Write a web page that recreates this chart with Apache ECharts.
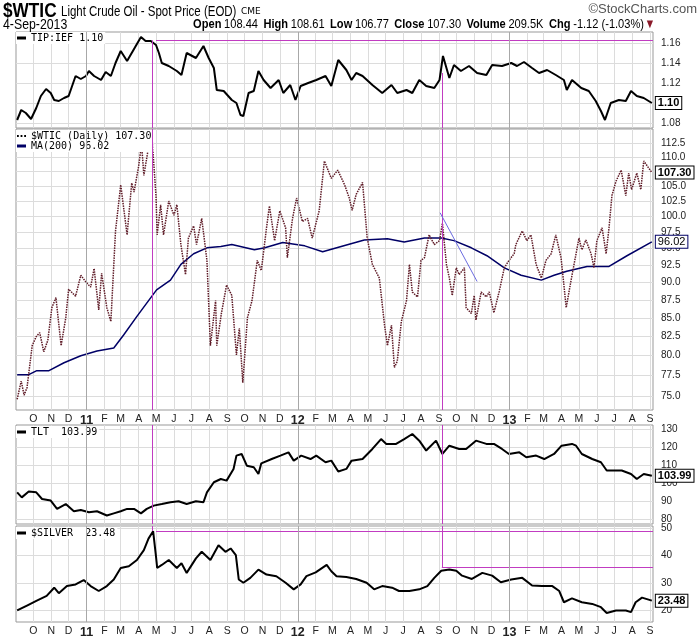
<!DOCTYPE html>
<html>
<head>
<meta charset="utf-8">
<title>$WTIC Light Crude Oil - Spot Price</title>
<script src="https://cdn.jsdelivr.net/npm/echarts@6/dist/echarts.min.js"></script>
<style>
  html, body { margin: 0; padding: 0; background: #fff; }
  #chart { width: 700px; height: 639px; }
</style>
</head>
<body>
<div id="chart"></div>
<script>
// month starts on the date axis
var monthTicks = [
  '2010-10-01', '2010-11-01', '2010-12-01', '2011-01-01', '2011-02-01', '2011-03-01',
  '2011-04-01', '2011-05-01', '2011-06-01', '2011-07-01', '2011-08-01', '2011-09-01',
  '2011-10-01', '2011-11-01', '2011-12-01', '2012-01-01', '2012-02-01', '2012-03-01',
  '2012-04-01', '2012-05-01', '2012-06-01', '2012-07-01', '2012-08-01', '2012-09-01',
  '2012-10-01', '2012-11-01', '2012-12-01', '2013-01-01', '2013-02-01', '2013-03-01',
  '2013-04-01', '2013-05-01', '2013-06-01', '2013-07-01', '2013-08-01', '2013-09-01'
];
var yearStarts = ['2011-01-01', '2012-01-01', '2013-01-01'];

// price scale ticks
var tipTicks = [1.08, 1.10, 1.12, 1.14, 1.16];
var wticTicks = [75, 77.5, 80, 82.5, 85, 87.5, 90, 92.5, 95, 97.5, 100, 102.5, 105, 107.5, 110, 112.5];
var tltTicks = [80, 90, 100, 110, 120, 130];
var silverTicks = [20, 30, 40, 50];

// TIP:IEF ratio
var tipIef = [
  ['2010-09-03', 1.083], ['2010-09-10', 1.093], ['2010-09-18', 1.090], ['2010-09-27', 1.084],
  ['2010-10-06', 1.095], ['2010-10-14', 1.107], ['2010-10-23', 1.114], ['2010-10-31', 1.110],
  ['2010-11-06', 1.103], ['2010-11-14', 1.102], ['2010-11-23', 1.105], ['2010-12-01', 1.107],
  ['2010-12-13', 1.127], ['2010-12-22', 1.124], ['2010-12-31', 1.127], ['2011-01-05', 1.132],
  ['2011-01-14', 1.127], ['2011-01-26', 1.123], ['2011-02-03', 1.131], ['2011-02-12', 1.127],
  ['2011-02-20', 1.140], ['2011-03-01', 1.152], ['2011-03-12', 1.142], ['2011-03-24', 1.154],
  ['2011-04-05', 1.166], ['2011-04-13', 1.162], ['2011-04-22', 1.162], ['2011-05-01', 1.158],
  ['2011-05-06', 1.150], ['2011-05-11', 1.140], ['2011-05-23', 1.137], ['2011-06-06', 1.132],
  ['2011-06-14', 1.128], ['2011-06-23', 1.150], ['2011-07-09', 1.145], ['2011-07-22', 1.157],
  ['2011-07-31', 1.145], ['2011-08-09', 1.135], ['2011-08-14', 1.113], ['2011-08-26', 1.112],
  ['2011-09-09', 1.103], ['2011-09-17', 1.100], ['2011-09-24', 1.088], ['2011-09-29', 1.087],
  ['2011-10-08', 1.110], ['2011-10-17', 1.112], ['2011-10-25', 1.132], ['2011-11-03', 1.123],
  ['2011-11-15', 1.115], ['2011-11-29', 1.123], ['2011-12-07', 1.110], ['2011-12-19', 1.118],
  ['2011-12-28', 1.103], ['2012-01-06', 1.117], ['2012-01-19', 1.120], ['2012-02-02', 1.123],
  ['2012-02-18', 1.127], ['2012-02-28', 1.117], ['2012-03-11', 1.143], ['2012-03-25', 1.133],
  ['2012-04-03', 1.123], ['2012-04-11', 1.130], ['2012-04-22', 1.127], ['2012-05-09', 1.118],
  ['2012-05-26', 1.110], ['2012-06-11', 1.118], ['2012-06-21', 1.110], ['2012-07-07', 1.113],
  ['2012-07-17', 1.110], ['2012-07-29', 1.123], ['2012-08-10', 1.117], ['2012-08-24', 1.115],
  ['2012-09-02', 1.123], ['2012-09-08', 1.147], ['2012-09-19', 1.125], ['2012-09-27', 1.138],
  ['2012-10-09', 1.132], ['2012-10-23', 1.137], ['2012-11-06', 1.130], ['2012-11-22', 1.128],
  ['2012-12-02', 1.138], ['2012-12-19', 1.137], ['2013-01-04', 1.140], ['2013-01-14', 1.137],
  ['2013-01-26', 1.141], ['2013-02-09', 1.135], ['2013-02-21', 1.130], ['2013-03-07', 1.133],
  ['2013-03-22', 1.128], ['2013-04-05', 1.123], ['2013-04-10', 1.113], ['2013-04-19', 1.123],
  ['2013-05-05', 1.115], ['2013-05-18', 1.112], ['2013-05-30', 1.102], ['2013-06-08', 1.092],
  ['2013-06-15', 1.083], ['2013-06-25', 1.100], ['2013-07-09', 1.103], ['2013-07-21', 1.102],
  ['2013-07-30', 1.112], ['2013-08-09', 1.107], ['2013-08-21', 1.105], ['2013-09-04', 1.100]
];

// $WTIC daily close
var wtic = [
  ['2010-09-03', 74.6], ['2010-09-10', 76.8], ['2010-09-15', 75.1], ['2010-09-20', 76.0],
  ['2010-09-29', 81.3], ['2010-10-06', 82.5], ['2010-10-12', 83.0], ['2010-10-19', 80.5],
  ['2010-10-26', 82.0], ['2010-11-02', 86.4], ['2010-11-09', 87.8], ['2010-11-18', 81.3],
  ['2010-11-26', 85.0], ['2010-12-01', 89.0], ['2010-12-13', 88.0], ['2010-12-22', 91.0],
  ['2010-12-31', 90.0], ['2011-01-08', 89.3], ['2011-01-14', 92.0], ['2011-01-22', 86.1],
  ['2011-01-27', 91.3], ['2011-02-05', 86.4], ['2011-02-12', 84.5], ['2011-02-20', 97.7],
  ['2011-03-01', 105.2], ['2011-03-12', 97.1], ['2011-03-20', 105.5], ['2011-03-24', 104.0],
  ['2011-04-01', 108.4], ['2011-04-06', 112.3], ['2011-04-10', 106.8], ['2011-04-18', 111.7],
  ['2011-04-24', 113.6], ['2011-05-01', 103.3], ['2011-05-03', 97.1], ['2011-05-09', 101.9],
  ['2011-05-14', 97.1], ['2011-05-23', 102.5], ['2011-06-01', 100.2], ['2011-06-06', 101.9],
  ['2011-06-13', 95.6], ['2011-06-21', 91.1], ['2011-06-26', 96.6], ['2011-07-05', 98.5],
  ['2011-07-10', 95.6], ['2011-07-19', 99.7], ['2011-07-28', 93.2], ['2011-08-03', 81.3],
  ['2011-08-12', 87.4], ['2011-08-14', 81.3], ['2011-08-22', 85.6], ['2011-08-31', 89.6],
  ['2011-09-09', 88.1], ['2011-09-17', 80.1], ['2011-09-22', 83.6], ['2011-09-28', 76.6],
  ['2011-10-06', 85.0], ['2011-10-14', 87.4], ['2011-10-23', 93.2], ['2011-10-30', 91.7],
  ['2011-11-08', 98.2], ['2011-11-13', 101.7], ['2011-11-22', 96.2], ['2011-12-01', 100.9],
  ['2011-12-11', 98.2], ['2011-12-14', 93.6], ['2011-12-23', 99.7], ['2011-12-30', 103.0],
  ['2012-01-09', 99.2], ['2012-01-18', 99.7], ['2012-01-26', 96.6], ['2012-02-07', 100.9],
  ['2012-02-16', 109.3], ['2012-02-28', 106.3], ['2012-03-10', 107.7], ['2012-03-22', 105.2],
  ['2012-03-30', 103.0], ['2012-04-04', 101.0], ['2012-04-11', 103.6], ['2012-04-22', 105.6],
  ['2012-04-30', 96.6], ['2012-05-09', 92.6], ['2012-05-21', 90.6], ['2012-05-30', 84.0],
  ['2012-06-04', 81.3], ['2012-06-11', 84.0], ['2012-06-16', 78.5], ['2012-06-21', 79.3],
  ['2012-06-28', 84.5], ['2012-07-07', 87.4], ['2012-07-12', 92.6], ['2012-07-17', 88.6],
  ['2012-07-26', 87.9], ['2012-08-01', 93.2], ['2012-08-07', 93.6], ['2012-08-15', 97.1],
  ['2012-08-24', 95.6], ['2012-09-02', 96.2], ['2012-09-07', 98.9], ['2012-09-14', 92.6],
  ['2012-09-19', 90.6], ['2012-09-24', 88.1], ['2012-10-01', 92.1], ['2012-10-06', 91.1],
  ['2012-10-15', 92.1], ['2012-10-18', 86.4], ['2012-10-27', 85.6], ['2012-11-01', 88.1],
  ['2012-11-04', 84.7], ['2012-11-13', 88.6], ['2012-11-22', 87.9], ['2012-11-27', 88.6],
  ['2012-12-05', 85.7], ['2012-12-14', 88.6], ['2012-12-23', 92.1], ['2012-12-31', 93.2],
  ['2013-01-09', 94.2], ['2013-01-12', 95.6], ['2013-01-23', 97.7], ['2013-01-31', 96.2],
  ['2013-02-07', 97.1], ['2013-02-16', 92.6], ['2013-02-25', 90.6], ['2013-03-05', 93.2],
  ['2013-03-14', 94.2], ['2013-03-22', 97.1], ['2013-03-31', 93.6], ['2013-04-05', 89.6],
  ['2013-04-09', 86.4], ['2013-04-17', 90.1], ['2013-04-26', 94.2], ['2013-05-01', 96.6],
  ['2013-05-06', 94.8], ['2013-05-13', 96.3], ['2013-05-22', 94.2], ['2013-05-27', 92.1],
  ['2013-06-01', 96.2], ['2013-06-10', 98.2], ['2013-06-17', 94.2], ['2013-06-22', 98.2],
  ['2013-06-27', 103.4], ['2013-07-04', 105.8], ['2013-07-13', 107.7], ['2013-07-21', 103.4],
  ['2013-07-26', 107.2], ['2013-07-31', 104.4], ['2013-08-09', 107.2], ['2013-08-16', 104.4],
  ['2013-08-21', 109.3], ['2013-09-04', 107.30]
];

// 200 day moving average of $WTIC
var wticMa200 = [
  ['2010-09-03', 77.6], ['2010-09-23', 77.6], ['2010-10-07', 78.1], ['2010-10-28', 78.1],
  ['2010-11-23', 79.1], ['2010-12-22', 80.0], ['2011-01-19', 80.6], ['2011-02-17', 81.0],
  ['2011-03-06', 82.7], ['2011-03-29', 85.2], ['2011-04-22', 87.8], ['2011-05-02', 88.9],
  ['2011-05-26', 90.3], ['2011-06-13', 92.6], ['2011-07-05', 94.2], ['2011-07-28', 95.1],
  ['2011-08-21', 95.3], ['2011-09-09', 95.6], ['2011-10-18', 94.8], ['2011-11-05', 95.1],
  ['2011-12-06', 95.9], ['2012-01-13', 95.4], ['2012-02-13', 94.5], ['2012-03-16', 95.3],
  ['2012-04-25', 96.3], ['2012-06-04', 96.5], ['2012-07-03', 96.0], ['2012-08-07', 96.6],
  ['2012-09-05', 96.6], ['2012-09-27', 96.2], ['2012-10-27', 95.1], ['2012-11-23', 93.9],
  ['2012-12-23', 92.1], ['2013-01-21', 91.0], ['2013-02-25', 90.3], ['2013-03-19', 91.0],
  ['2013-04-10', 91.6], ['2013-05-15', 92.3], ['2013-06-22', 92.3], ['2013-07-23', 93.9],
  ['2013-09-04', 96.02]
];

// TLT
var tlt = [
  ['2010-09-03', 94.8], ['2010-09-11', 92.0], ['2010-09-23', 95.2], ['2010-10-06', 94.8],
  ['2010-10-16', 91.1], ['2010-10-31', 90.2], ['2010-11-11', 85.6], ['2010-11-26', 88.3],
  ['2010-12-10', 84.3], ['2010-12-22', 85.0], ['2011-01-05', 83.7], ['2011-01-19', 84.3],
  ['2011-02-05', 81.9], ['2011-02-17', 83.1], ['2011-03-01', 84.3], ['2011-03-12', 85.6],
  ['2011-03-24', 85.6], ['2011-04-05', 83.1], ['2011-04-15', 85.6], ['2011-04-27', 87.4],
  ['2011-05-11', 88.3], ['2011-05-26', 89.3], ['2011-06-09', 89.8], ['2011-06-23', 88.3],
  ['2011-07-09', 89.8], ['2011-07-22', 89.3], ['2011-07-28', 94.8], ['2011-08-09', 100.4],
  ['2011-08-21', 102.2], ['2011-08-31', 101.3], ['2011-09-12', 107.8], ['2011-09-17', 115.2],
  ['2011-09-26', 116.1], ['2011-10-05', 109.6], ['2011-10-17', 108.7], ['2011-10-25', 105.0],
  ['2011-10-30', 110.9], ['2011-11-17', 113.3], ['2011-12-02', 115.2], ['2011-12-16', 117.0],
  ['2011-12-25', 112.4], ['2012-01-07', 115.2], ['2012-01-23', 113.3], ['2012-02-02', 115.2],
  ['2012-02-18', 111.5], ['2012-02-28', 112.4], ['2012-03-11', 106.4], ['2012-03-25', 107.8],
  ['2012-04-03', 112.4], ['2012-04-22', 113.3], ['2012-05-09', 118.9], ['2012-05-24', 124.4],
  ['2012-06-02', 121.7], ['2012-06-19', 121.7], ['2012-07-03', 124.4], ['2012-07-17', 127.2],
  ['2012-07-29', 123.5], ['2012-08-10', 118.0], ['2012-08-27', 123.5], ['2012-09-07', 116.1],
  ['2012-09-19', 120.7], ['2012-10-06', 118.9], ['2012-10-18', 118.9], ['2012-11-04', 123.5],
  ['2012-11-22', 121.7], ['2012-12-05', 121.7], ['2012-12-19', 118.9], ['2012-12-31', 116.1],
  ['2013-01-18', 117.0], ['2013-01-30', 114.3], ['2013-02-16', 115.2], ['2013-03-02', 113.3],
  ['2013-03-19', 116.1], ['2013-04-01', 120.7], ['2013-04-19', 121.7], ['2013-04-26', 120.7],
  ['2013-05-06', 116.1], ['2013-05-24', 113.3], ['2013-06-08', 111.5], ['2013-06-18', 106.9],
  ['2013-07-04', 106.9], ['2013-07-14', 106.9], ['2013-07-30', 105.0], ['2013-08-09', 102.2],
  ['2013-08-21', 105.0], ['2013-09-04', 103.99]
];

// $SILVER
var silver = [
  ['2010-09-03', 19.9], ['2010-09-20', 21.7], ['2010-10-07', 23.5], ['2010-10-24', 25.2],
  ['2010-11-06', 28.2], ['2010-11-14', 26.2], ['2010-11-28', 28.8], ['2010-12-13', 29.4],
  ['2010-12-27', 31.0], ['2011-01-08', 28.8], ['2011-01-22', 27.0], ['2011-02-05', 28.8],
  ['2011-02-17', 31.2], ['2011-03-01', 35.4], ['2011-03-15', 36.0], ['2011-03-29', 38.3],
  ['2011-04-10', 41.9], ['2011-04-18', 46.1], ['2011-04-26', 48.8], ['2011-05-01', 39.5],
  ['2011-05-03', 35.4], ['2011-05-11', 36.5], ['2011-05-23', 38.3], ['2011-06-06', 35.4],
  ['2011-06-14', 37.1], ['2011-06-23', 33.6], ['2011-07-09', 38.9], ['2011-07-19', 41.3],
  ['2011-08-03', 38.3], ['2011-08-17', 43.7], ['2011-08-29', 41.3], ['2011-09-07', 42.5],
  ['2011-09-16', 40.1], ['2011-09-21', 31.2], ['2011-09-29', 30.0], ['2011-10-11', 31.8],
  ['2011-10-25', 34.8], ['2011-11-08', 33.0], ['2011-11-25', 32.4], ['2011-12-11', 30.0],
  ['2011-12-25', 27.6], ['2012-01-06', 29.4], ['2012-01-16', 32.4], ['2012-02-01', 33.8],
  ['2012-02-20', 36.5], ['2012-02-28', 34.2], ['2012-03-08', 32.4], ['2012-03-25', 32.1],
  ['2012-04-11', 31.4], ['2012-04-29', 30.0], ['2012-05-12', 27.6], ['2012-05-26', 28.8],
  ['2012-06-12', 28.2], ['2012-06-24', 27.0], ['2012-07-12', 27.0], ['2012-07-29', 27.6],
  ['2012-08-12', 28.8], ['2012-08-24', 31.8], ['2012-09-05', 34.4], ['2012-09-19', 34.8],
  ['2012-10-01', 34.4], ['2012-10-11', 32.6], ['2012-10-28', 31.4], ['2012-11-15', 33.6],
  ['2012-12-02', 32.6], ['2012-12-17', 30.2], ['2013-01-04', 31.2], ['2013-01-23', 31.8],
  ['2013-02-09', 29.0], ['2013-02-26', 28.8], ['2013-03-16', 28.8], ['2013-03-28', 27.0],
  ['2013-04-05', 22.9], ['2013-04-19', 24.3], ['2013-05-06', 22.9], ['2013-05-24', 22.3],
  ['2013-06-08', 21.1], ['2013-06-18', 19.0], ['2013-07-04', 19.9], ['2013-07-21', 19.9],
  ['2013-07-30', 19.3], ['2013-08-07', 22.9], ['2013-08-18', 24.6], ['2013-09-04', 23.48]
];

// header quote
var quoteLabels = ['Open', 'High', 'Low', 'Close', 'Volume', 'Chg'];
var quoteValues = ['108.44', '108.61', '106.77', '107.30', '209.5K', '-1.12 (-1.03%)'];

// hand drawn annotations
var markDates = ['2011-04-24', '2012-09-06'];
var levelStart = '2011-05-01';
var tipHigh = 1.1627, tipAtMark2 = 1.13;
var silverHigh = 48.9, silverAtMark2 = 35.6;
var trendLine = [['2012-09-03', 100.6], ['2012-11-06', 90.1]];

// axis ranges
var startDate = '2010-09-01', endDate = '2013-09-06';
var tipMin = 1.075, tipMax = 1.171;
var wticMin = 73.33, wticMax = 115.05;
var tltMin = 77.2, tltMax = 132.2;
var silverMin = 15.7, silverMax = 50.7;

var gridColor = '#dcdcdc';
var yearColor = '#a8a8a8';
var magenta = '#c13cc1';
var labelFont = 'Liberation Sans';
var narrow = 0.82;   // no condensed face installed, squeeze the header text instead

// dates -> UTC milliseconds for the value based date axis
function t(s) { var p = s.split('-'); return Date.UTC(+p[0], +p[1] - 1, +p[2]); }
function series(arr) { return arr.map(function (d) { return [t(d[0]), d[1]]; }); }
function pt(d) { return [t(d[0]), d[1]]; }
var monthTimes = monthTicks.map(t);

function last(arr) { return arr[arr.length - 1][1]; }

var legendText = {
  'TIP:IEF': 'TIP:IEF ' + last(tipIef).toFixed(2),
  '$WTIC': '$WTIC (Daily) ' + last(wtic).toFixed(2),
  'MA(200)': 'MA(200) ' + last(wticMa200).toFixed(2),
  'TLT': 'TLT  ' + last(tlt).toFixed(2),
  '$SILVER': '$SILVER  ' + last(silver).toFixed(2)
};

function monthLabel(v) {
  var d = new Date(v);
  var m = d.getUTCMonth();
  if (m === 0) return '{y|' + String(d.getUTCFullYear()).slice(2) + '}';
  return 'JFMAMJJASOND'.charAt(m);
}

function dateAxis(gi, showLabels) {
  return {
    type: 'value', gridIndex: gi, min: t(startDate), max: t(endDate),
    axisLine: { show: false },
    axisTick: { show: false, customValues: monthTimes },
    splitLine: { show: true, lineStyle: { color: gridColor, width: 1 } },
    axisLabel: {
      show: showLabels, customValues: monthTimes, margin: 4, hideOverlap: false,
      formatter: monthLabel, color: '#222', fontFamily: labelFont, fontSize: 10.5,
      rich: { y: { fontWeight: 'bold', fontSize: 12.5, color: '#222', fontFamily: labelFont } }
    }
  };
}

function priceAxis(gi, type, min, max, ticks, digits) {
  return {
    type: type, gridIndex: gi, position: 'right', min: min, max: max,
    axisLine: { show: false },
    axisTick: { show: false, customValues: ticks },
    splitLine: { show: true, lineStyle: { color: gridColor, width: 1 } },
    axisLabel: {
      customValues: ticks, margin: 8, color: '#222', fontFamily: labelFont, fontSize: 10,
      formatter: function (v) { return (+v).toFixed(digits); }
    }
  };
}

function endBox(digits, bold, border) {
  return {
    show: true, distance: 4,
    formatter: function (p) { return (+p.value[1]).toFixed(digits); },
    color: '#000', fontFamily: labelFont, fontSize: 11, fontWeight: bold ? 'bold' : 'normal',
    backgroundColor: '#fff', borderColor: border, borderWidth: 1, padding: [1, 2, 0, 2]
  };
}

function marks(items) {
  var data = items.slice();
  yearStarts.forEach(function (d) {
    data.push({ xAxis: t(d), lineStyle: { color: yearColor, width: 1, type: 'solid' } });
  });
  return {
    silent: true, symbol: 'none', animation: false,
    label: { show: false },
    lineStyle: { color: magenta, width: 1, type: 'solid' },
    data: data
  };
}

function seg(a, b) { return [{ coord: pt(a) }, { coord: pt(b) }]; }

var barIcon = 'rect';
var dotIcon = 'path://M0,0h2v2h-2zM4,0h2v2h-2zM8,0h2v2h-2z';

var legendBase = {
  orient: 'vertical', itemWidth: 9, itemHeight: 3, itemGap: 0, padding: [1, 2, 1, 1],
  backgroundColor: '#fff', selectedMode: false,
  textStyle: { fontFamily: 'DejaVu Sans Mono', fontSize: 10, lineHeight: 10, color: '#000' },
  formatter: function (name) { return legendText[name]; }
};
function legendAt(top, items) {
  return Object.assign({}, legendBase, { left: 16, top: top, data: items });
}

var quoteText = quoteLabels.map(function (l, i) {
  return '{l|' + l + '} {v|' + quoteValues[i] + '}';
}).join('  ') + ' {t|▼}';

function headerText(x, y, text, font, align) {
  return {
    type: 'text', x: x, y: y, scaleX: narrow, silent: true,
    style: { text: text, font: font, fill: '#000', align: align || 'left', verticalAlign: 'top' }
  };
}

var chart = echarts.init(document.getElementById('chart'), null, { renderer: 'canvas' });

chart.setOption({
  animation: false,
  backgroundColor: '#fff',
  graphic: {
    elements: [
      headerText(3, 1, '$WTIC', 'bold 21px "Liberation Sans"'),
      headerText(61, 5, 'Light Crude Oil - Spot Price (EOD)', '14px "Liberation Sans"'),
      headerText(3, 17, '4-Sep-2013', '15px "Liberation Sans"'),
      {
        type: 'text', x: 241, y: 7, silent: true,
        style: { text: 'CME', font: '9px "DejaVu Sans"', fill: '#000', verticalAlign: 'top' }
      },
      {
        type: 'text', x: 697, y: 3, silent: true,
        style: { text: '©StockCharts.com', font: '13px "Liberation Sans"', fill: '#555',
          align: 'right', verticalAlign: 'top' }
      },
      {
        type: 'text', x: 653, y: 17, scaleX: narrow, silent: true,
        style: {
          text: quoteText, align: 'right', verticalAlign: 'top', fill: '#000',
          rich: {
            l: { fontFamily: labelFont, fontWeight: 'bold', fontSize: 13.5, fill: '#000' },
            v: { fontFamily: labelFont, fontSize: 13.5, fill: '#000' },
            t: { fontFamily: 'DejaVu Sans', fontSize: 10, fill: '#8b1a2a' }
          }
        }
      }
    ]
  },
  legend: [
    legendAt(32, [{ name: 'TIP:IEF', icon: barIcon }]),
    legendAt(130, [
      { name: '$WTIC', icon: dotIcon, itemStyle: { color: '#000' } },
      { name: 'MA(200)', icon: barIcon }
    ]),
    legendAt(426, [{ name: 'TLT', icon: barIcon }]),
    legendAt(527, [{ name: '$SILVER', icon: barIcon }])
  ],
  grid: [
    { left: 16, right: 47, top: 32, height: 96, show: true, borderColor: '#999', backgroundColor: '#fff' },
    { left: 16, right: 47, top: 129, height: 281, show: true, borderColor: '#999', backgroundColor: '#fff' },
    { left: 16, right: 47, top: 425, height: 99, show: true, borderColor: '#999', backgroundColor: '#fff' },
    { left: 16, right: 47, top: 526, height: 98, show: true, borderColor: '#999', backgroundColor: '#fff' }
  ],
  xAxis: [dateAxis(0, false), dateAxis(1, true), dateAxis(2, false), dateAxis(3, true)],
  yAxis: [
    priceAxis(0, 'value', tipMin, tipMax, tipTicks, 2),
    priceAxis(1, 'log', wticMin, wticMax, wticTicks, 1),
    priceAxis(2, 'value', tltMin, tltMax, tltTicks, 0),
    priceAxis(3, 'value', silverMin, silverMax, silverTicks, 0)
  ],
  series: [
    {
      name: 'TIP:IEF', type: 'line', xAxisIndex: 0, yAxisIndex: 0, data: series(tipIef),
      symbol: 'none', color: '#000', lineStyle: { color: '#000', width: 2 },
      endLabel: endBox(2, true, '#000'),
      markLine: marks([
        seg([levelStart, tipHigh], [endDate, tipHigh]),
        seg([markDates[0], tipHigh], [markDates[0], tipMin]),
        seg([markDates[1], tipAtMark2], [markDates[1], tipMin])
      ])
    },
    {
      name: 'MA(200)', type: 'line', xAxisIndex: 1, yAxisIndex: 1, data: series(wticMa200),
      symbol: 'none', color: '#000066', lineStyle: { color: '#000066', width: 1.5 },
      endLabel: endBox(2, false, '#000066')
    },
    {
      name: '$WTIC', type: 'line', xAxisIndex: 1, yAxisIndex: 1, data: series(wtic),
      symbol: 'none', color: '#5e1a26', lineStyle: { color: '#5e1a26', width: 1.5, type: [1.5, 1] },
      endLabel: endBox(2, true, '#000'),
      markLine: marks([
        { xAxis: t(markDates[0]) },
        { xAxis: t(markDates[1]) },
        [{ coord: pt(trendLine[0]), lineStyle: { color: '#6b6be0', width: 1 } }, { coord: pt(trendLine[1]) }]
      ])
    },
    {
      name: 'TLT', type: 'line', xAxisIndex: 2, yAxisIndex: 2, data: series(tlt),
      symbol: 'none', color: '#000', lineStyle: { color: '#000', width: 2 },
      endLabel: endBox(2, true, '#000'),
      markLine: marks([
        { xAxis: t(markDates[0]) },
        { xAxis: t(markDates[1]) }
      ])
    },
    {
      name: '$SILVER', type: 'line', xAxisIndex: 3, yAxisIndex: 3, data: series(silver),
      symbol: 'none', color: '#000', lineStyle: { color: '#000', width: 2 },
      endLabel: endBox(2, true, '#000'),
      markLine: marks([
        seg([markDates[0], silverMax], [markDates[0], silverHigh]),
        seg([levelStart, silverHigh], [endDate, silverHigh]),
        seg([markDates[1], silverMax], [markDates[1], silverAtMark2]),
        seg([markDates[1], silverAtMark2], [endDate, silverAtMark2])
      ])
    }
  ]
});
</script>
</body>
</html>
